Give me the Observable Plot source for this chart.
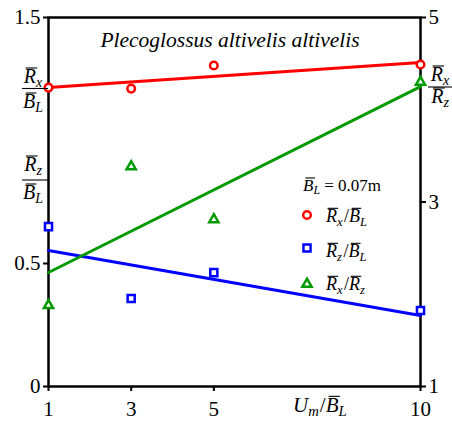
<!DOCTYPE html>
<html><head><meta charset="utf-8">
<script src="https://cdn.jsdelivr.net/npm/d3@7"></script>
<script src="https://cdn.jsdelivr.net/npm/@observablehq/plot@0.6"></script>
<style>body{margin:0;background:#fff} svg{display:block}</style>
</head><body><div id="chart"></div>
<script>
// ---- data ----
const xValues = [1, 3, 5, 10];
const rxBL = [1.215, 1.211, 1.305, 1.309];   // left axis
const rzBL = [0.650, 0.358, 0.463, 0.309];   // left axis
const rxRz = [1.88, 3.385, 2.81, 4.30];      // right axis
const fitX = [1, 10];
const fitRxBL = [1.215, 1.317];
const fitRzBL = [0.553, 0.289];
const fitRxRz = [2.236, 4.25];
const leftTicks = [0, 0.5, 1.5];
const rightTicks = [1, 3, 5];
const xTicks = [1, 3, 5, 10];
const titleText = "Plecoglossus altivelis altivelis";
const legendNote = "0.07m";

const RED = "#ff0000", BLUE = "#0000ff", GREEN = "#009a00";
const FONT = "Liberation Serif, DejaVu Serif";
// right axis [1,5] mapped onto left axis [0,1.5]
const toLeft = v => (v - 1) * 1.5 / 4;
const fromLeft = v => v / 0.375 + 1;

const plot = Plot.plot({
  width: 452, height: 421,
  marginLeft: 48, marginRight: 32, marginTop: 17, marginBottom: 35,
  x: {domain: [1, 10]},
  y: {domain: [0, 1.5]},
  style: {fontFamily: FONT, fontSize: "21px", color: "black", background: "white"},
  marks: [
    Plot.axisX({ticks: xTicks, tickSize: 5, tickPadding: 10, strokeWidth: 2, tickFormat: d => String(d), label: null}),
    Plot.axisY({ticks: leftTicks, anchor: "left", tickSize: 5, tickPadding: 3, strokeWidth: 2, tickFormat: d => String(d), label: null}),
    Plot.axisY({ticks: rightTicks.map(toLeft), anchor: "right", tickSize: 5, tickPadding: 3, strokeWidth: 2, tickFormat: d => String(Math.round(fromLeft(d))), label: null}),
    Plot.frame({stroke: "black", strokeWidth: 2.5}),
    Plot.line(fitX, {x: d => d, y: (d, i) => fitRxBL[i], stroke: RED, strokeWidth: 3}),
    Plot.line(fitX, {x: d => d, y: (d, i) => fitRzBL[i], stroke: BLUE, strokeWidth: 3}),
    Plot.line(fitX, {x: d => d, y: (d, i) => toLeft(fitRxRz[i]), stroke: GREEN, strokeWidth: 3}),
    Plot.dot(xValues, {x: d => d, y: (d, i) => rxBL[i], symbol: "circle", r: 3.8, stroke: RED, strokeWidth: 2.5, fill: "white"}),
    Plot.dot(xValues, {x: d => d, y: (d, i) => rzBL[i], symbol: "square", r: 4, stroke: BLUE, strokeWidth: 2.5, fill: "white"}),
    Plot.dot(xValues, {x: d => d, y: (d, i) => toLeft(rxRz[i]), symbol: "triangle", r: 3.4, stroke: GREEN, strokeWidth: 2.5, fill: "white"})
  ]
});
document.getElementById("chart").appendChild(plot);

const svg = d3.select(plot);
const ann = svg.append("g").attr("font-family", FONT).attr("fill", "black");

// parts: [text, {it, sub, ov, dx}]
function rich(x, y, parts, size, anchor = "start") {
  const t = ann.append("text").attr("x", x).attr("y", y)
    .attr("font-size", size).attr("text-anchor", anchor);
  const ovs = [];
  let shifted = false;
  for (const p of parts) {
    const ts = t.append("tspan").text(p.t);
    if (p.it) ts.attr("font-style", "italic");
    if (p.dx) ts.attr("dx", p.dx);
    if (p.sub) { ts.attr("font-size", size * 0.7).attr("dy", size * 0.2); shifted = true; }
    else if (shifted) { ts.attr("dy", -size * 0.2); shifted = false; }
    if (p.ov) ovs.push([ts, p.ov]);
  }
  for (const [ts, kind] of ovs) {
    const b = ts.node().getBBox();
    const oy = y - size * 0.66 - 1.8;
    ann.append("line").attr("x1", b.x + size * 0.14).attr("x2", b.x + b.width + size * 0.06)
      .attr("y1", oy).attr("y2", oy).attr("stroke", "black").attr("stroke-width", 1.1);
  }
  return t;
}
function frac(cx, x1, x2, yNum, yBar, yDen, num, den, size) {
  rich(cx, yNum, num, size, "middle");
  ann.append("line").attr("x1", x1).attr("x2", x2).attr("y1", yBar).attr("y2", yBar)
    .attr("stroke", "black").attr("stroke-width", 1.1);
  rich(cx, yDen, den, size, "middle");
}
const Rx = [{t: "R", it: 1, ov: 1}, {t: "x", it: 1, sub: 1}];
const Rz = [{t: "R", it: 1, ov: 1}, {t: "z", it: 1, sub: 1}];
const BL = [{t: "B", it: 1, ov: 1}, {t: "L", it: 1, sub: 1}];
const slash = {t: "/", dx: 1.5};

frac(33, 22, 48, 83, 88.5, 108, Rx, BL, 20);
frac(33, 22, 48, 171, 180, 199, Rz, BL, 20);
frac(440, 428, 452, 81, 87, 103, Rx, Rz, 20);

// title
ann.append("text").attr("x", 230).attr("y", 47).attr("text-anchor", "middle")
  .attr("font-size", 21.5).attr("font-style", "italic").text(titleText);

// x label
{
  const t = rich(293, 412, [{t: "U", it: 1}, {t: "m", it: 1, sub: 1}, {t: "/", dx: 1}, {t: "B", it: 1, ov: 1}, {t: "L", it: 1, sub: 1}], 21);
}

// legend
rich(303, 191, [...BL, {t: " = " + legendNote}], 17);
const sym = (type, r) => d3.symbol(type, Math.PI * r * r)();
ann.append("path").attr("d", sym(d3.symbolCircle, 3.8)).attr("transform", "translate(307,215)")
  .attr("fill", "white").attr("stroke", RED).attr("stroke-width", 2.5);
ann.append("path").attr("d", sym(d3.symbolSquare, 4)).attr("transform", "translate(307,248)")
  .attr("fill", "white").attr("stroke", BLUE).attr("stroke-width", 2.5);
ann.append("path").attr("d", sym(d3.symbolTriangle, 3.4)).attr("transform", "translate(307,284)")
  .attr("fill", "white").attr("stroke", GREEN).attr("stroke-width", 2.5);
rich(326, 222, [...Rx, slash, ...BL], 18);
rich(326, 257, [...Rz, slash, ...BL], 18);
rich(326, 290, [...Rx, slash, ...Rz], 18);
</script></body></html>
